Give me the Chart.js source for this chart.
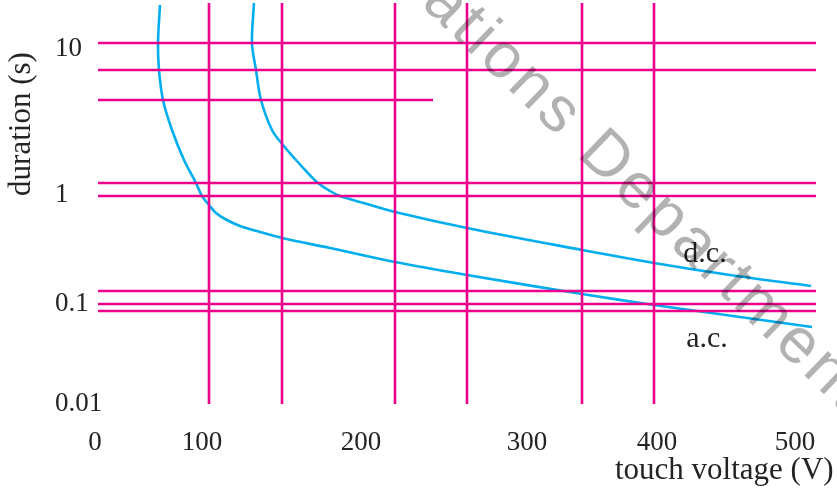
<!DOCTYPE html>
<html>
<head>
<meta charset="utf-8">
<script src="https://cdn.jsdelivr.net/npm/chart.js@4"></script>
<style>
  html, body { margin: 0; background: #fff; }
  #wrap { width: 837px; height: 493px; }
</style>
</head>
<body>
<div id="wrap"><canvas id="chart"></canvas></div>
<script>
// Figure units: x runs right from the "0" label, y runs up from the foot of the grid.
// The printed scale is not uniform, so the ticks sit where the labels are printed.
const xTickAt = [0, 107, 266, 432, 562, 700];
const xTickText = ["0", "100", "200", "300", "400", "500"];
const yTickAt = [0, 100, 209, 355];
const yTickText = ["0.01", "0.1", "1", "10"];

// magenta reference lines
const rowAt = [361, 334, 304, 221, 208, 113, 100, 93];
const rowStart = [3, 3, 3, 3, 3, 3, 3, 3];
const rowEnd = [721, 721, 338, 721, 721, 721, 721, 721];
const colAt = [114, 187, 300, 372, 487, 559];
const colFoot = 0;
const colTop = 401;

// a.c. limit curve
const acX = [65, 63, 64, 68, 77, 89, 101, 107, 114, 121, 130, 145, 165, 187, 235, 300, 372, 487, 559, 645, 717];
const acY = [399, 361, 334, 304, 274, 244, 221, 208, 199, 191, 185, 178, 172, 166, 156, 142, 129, 110, 99, 87, 77];

// d.c. limit curve
const dcX = [159, 157, 161, 166, 177, 188, 201, 212, 223, 235, 245, 272, 300, 372, 487, 559, 635, 716];
const dcY = [402, 361, 334, 304, 274, 259, 244, 232, 221, 213, 208, 200, 192, 176, 154, 141, 129, 118];

const MAGENTA = "#ec008c";
const CYAN = "#00aeef";
const INK = "#262324";
const SERIF = "'Liberation Serif', 'Times New Roman', serif";

const pts = (xs, ys) => xs.map((x, i) => ({ x, y: ys[i] }));

const gridSets = [
  ...rowAt.map((y, i) => ({
    data: [{ x: rowStart[i], y }, { x: rowEnd[i], y }],
    borderColor: MAGENTA,
    borderWidth: 2.6,
  })),
  ...colAt.map((x) => ({
    data: [{ x, y: colFoot }, { x, y: colTop }],
    borderColor: MAGENTA,
    borderWidth: 2.6,
  })),
];

const curveSets = [
  { label: "a.c.", data: pts(acX, acY), borderColor: CYAN, borderWidth: 2.6, tension: 0.35 },
  { label: "d.c.", data: pts(dcX, dcY), borderColor: CYAN, borderWidth: 2.6, tension: 0.35 },
];

// free text: axis titles, curve names and the rotated watermark
const figureText = {
  id: "figureText",
  afterDraw(chart) {
    const { ctx } = chart;
    ctx.save();
    ctx.fillStyle = INK;
    ctx.font = `31px ${SERIF}`;
    ctx.textBaseline = "middle";

    ctx.save();
    ctx.translate(22, 124);
    ctx.rotate(-Math.PI / 2);
    ctx.textAlign = "center";
    ctx.fillText("duration (s)", 0, 0);
    ctx.restore();

    ctx.textAlign = "left";
    ctx.fillText("touch voltage (V)", 615, 471);

    ctx.font = `30px ${SERIF}`;
    ctx.textAlign = "center";
    ctx.fillText("d.c.", 705, 254);
    ctx.fillText("a.c.", 707, 339);

    // watermark
    ctx.font = "64px 'Liberation Sans', Arial, sans-serif";
    ctx.letterSpacing = "4px";
    ctx.fillStyle = "rgba(0, 0, 0, 0.3)";
    ctx.textBaseline = "alphabetic";
    ctx.translate(576, 155);
    ctx.rotate((44 * Math.PI) / 180);
    ctx.textAlign = "right";
    ctx.fillText("Publications ", 0, 0);
    ctx.textAlign = "left";
    ctx.fillText("Department", 0, 0);
    ctx.restore();
  },
};

new Chart(document.getElementById("chart"), {
  type: "line",
  data: { datasets: [...gridSets, ...curveSets] },
  options: {
    responsive: true,
    maintainAspectRatio: false,
    animation: false,
    events: [],
    layout: { padding: { left: 55, top: 3, right: 21, bottom: 0 } },
    elements: { point: { radius: 0 }, line: { borderCapStyle: "butt" } },
    plugins: { legend: { display: false }, tooltip: { enabled: false } },
    scales: {
      x: {
        type: "linear",
        min: -40,
        max: 721,
        grid: { display: false },
        border: { display: false },
        afterBuildTicks: (scale) => {
          scale.ticks = xTickAt.map((value) => ({ value }));
        },
        afterFit: (scale) => {
          scale.height = 89;
          scale.paddingLeft = 0;
          scale.paddingRight = 0;
        },
        ticks: {
          autoSkip: false,
          maxRotation: 0,
          padding: 15,
          color: INK,
          font: { family: SERIF, size: 27 },
          callback: (value) => xTickText[xTickAt.indexOf(value)],
        },
      },
      y: {
        type: "linear",
        min: 0,
        max: 401,
        grid: { display: false },
        border: { display: false },
        afterBuildTicks: (scale) => {
          scale.ticks = yTickAt.map((value) => ({ value }));
        },
        afterFit: (scale) => {
          scale.width = 0;
          scale.paddingTop = 0;
          scale.paddingBottom = 0;
        },
        ticks: {
          autoSkip: false,
          mirror: true,
          padding: 0,
          color: INK,
          font: { family: SERIF, size: 27 },
          callback: (value) => yTickText[yTickAt.indexOf(value)],
        },
      },
    },
  },
  plugins: [figureText],
});
</script>
</body>
</html>
